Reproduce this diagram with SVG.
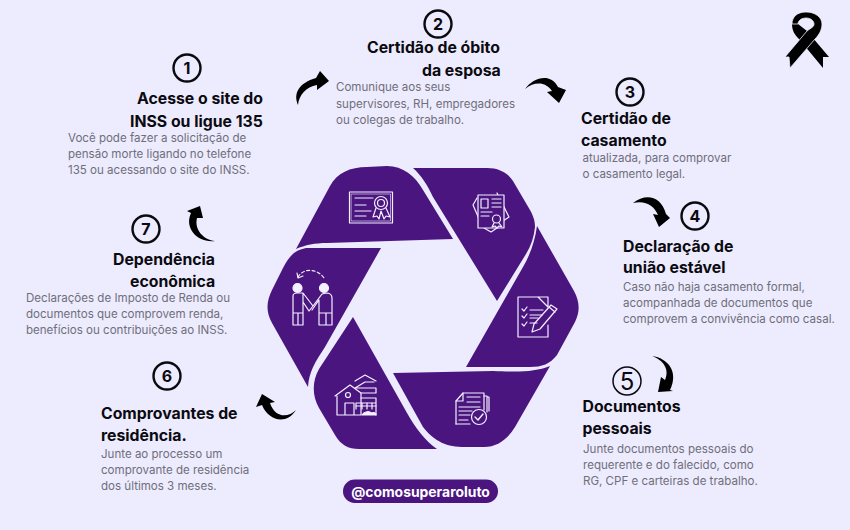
<svg xmlns="http://www.w3.org/2000/svg" width="850" height="530" viewBox="0 0 850 530">
<style>
.h{font:700 15.8px Inter,"Liberation Sans",sans-serif;fill:#0a0a0f}
.b{font:400 11.55px Inter,"Liberation Sans",sans-serif;fill:#6f6f7a}
.n{font:700 16px Inter,"Liberation Sans",sans-serif;fill:#0a0a0f;text-anchor:middle}
.c{fill:none;stroke:#0a0a0f;stroke-width:2.4}
.s{fill:#4b1580}
.i{fill:none;stroke:#f4f0ff;stroke-width:1.2;stroke-linejoin:round;stroke-linecap:round}
.a{fill:#000}
</style>
<rect width="850" height="530" fill="#edebfe"/>
<g id="ribbon"><path class="a" d="M792,24C792,31 795,35 799,39L823,68L823,57L829,57L807,31L798,24Z"/><path class="a" stroke="#edebfe" stroke-width=".8" d="M806,12C815,12 822,17 822,24C822,30 819,35 815,39L790,68L789,57L785,57L807,31C811,28 814,27 814,24C814,21 811,18 806,18C801,18 798,21 798,24L792,24C792,17 797,12 806,12Z"/></g>
<g id="connectors">
<path class="a" d="M298,105C293,93 299,83 316,78L320,71L329,81L317,90L317,85C306,87 299,95 298,105Z"/>
<path class="a" d="M525,89C533,78 550,72 558,87L566,90L559,103L547,92L552,91C546,82 535,81 525,89Z"/>
<path class="a" d="M633,203C646,193 661,196 666,214L670,218L659,227L653,214L658,215C654,205 645,200 633,203Z"/>
<path class="a" d="M652,356C668,358 679,372 670,390L673,391L658,392L661,377L665,380C670,369 663,360 652,356Z"/>
<path class="a" d="M200,206L187,211L191,213C184,228 197,243 215,241C204,240 194,230 197,218L203,218Z"/>
<path class="a" d="M262,394L256,407L262,405C268,420 286,426 296,410C288,418 275,418 270,403L275,402Z"/>
</g>
<g id="seg-1"><path class="s" d="M296,249L330,186C337,173 350,167 367,167L387,166C403,166 415,176 423,190L453,239L327,243C315,243 305,245 296,249Z"/>
<g class="i"><rect x="349.500" y="192" width="43" height="31"/><rect x="351.500" y="194" width="39" height="27" stroke-width=".6"/><path d="M355,198H373M355,205H366M355,211H371M355,216H366"/><circle cx="381" cy="203" r="6.500"/><circle cx="381" cy="203" r="3.500"/><path d="M376,208L373,217L377,216L379,219L381,211L384,219L386,216L390,217L386,208"/></g></g>
<g id="seg-2"><path class="s" d="M413,168H487C499,168 508,173 513,181L530,210C534,217 535,222 535,227C534,237 531,246 526,254L497,301L433,197C428,186 421,175 413,168Z"/>
<g class="i"><path d="M477,198L473,205L480,221M497,193L509,217L503,221M484,228L491,232L497,228"/><path d="M478,195L497,195L504,195V228H478Z" fill="#4b1580"/><rect x="481" y="199" width="7" height="9"/><path d="M492,199H501M492,203H501M492,207H501M481,212H492M481,216H489"/><circle cx="496.500" cy="219" r="4"/><path d="M494,223L492,227L495,226L497,228L499,226L502,227L499,223"/></g></g>
<g id="seg-3"><path class="s" d="M537,226L574,291C580,302 580,312 575,322L557,355C550,364 542,367 530,367H466L523,267C529,257 535,242 537,226Z"/>
<g class="i"><path d="M548,307V297L537,297H518V337H548V325M538,297L548,307"/><path d="M522,309L524,311L527,307M522,316L524,318L527,314M522,324L524,326L527,322M530,310H543M530,315H542M530,318H538M530,323H537"/><path d="M532,332L534,324L551,305L557,309L540,329ZM549,307L555,312"/></g></g>
<g id="seg-4"><path class="s" d="M550,366L515,427C507,440 497,447 484,447H465C447,447 435,442 423,427L393,373L493,371C520,372 535,372 550,366Z"/>
<g class="i"><path d="M456,424V401L463,393H484V410"/><path d="M484,396H487V412M487,397H489V411"/><path d="M456,401H463V393M467,397H480M467,402H480M459,407H480M459,411H472M459,415H470M459,420H468M456,424H470"/><circle cx="479" cy="417" r="7.500"/><path d="M475,417L478,420L483,414" stroke-width="1.400"/></g></g>
<g id="seg-5"><path class="s" d="M437,449H359C348,449 341,445 335,435L319,408C312,396 312,381 319,369L353,317L407,413C415,427 425,441 437,449Z"/>
<g class="i"><path d="M335,396L350,385L361,393V415H337V396M345,415V403H354V415"/><circle cx="348" cy="395" r="2.500"/><path d="M355,388H376V393H361M355,388L365,382H374M361,398H376V415M356,409V403H376"/><path d="M362,403V409M367,403V409M372,403V409M356,406H376"/><path d="M355,381L365,375L376,381"/><path d="M362,415C364,411 370,411 371,413C374,412 376,413 376,415Z" fill="#f4f0ff"/></g></g>
<g id="seg-6"><path class="s" d="M381,248L325,347C315,362 309,372 308,387L272,323C266,312 266,302 272,290L283,268C289,256 295,250 306,248Z"/>
<g class="i"><circle cx="297.500" cy="288" r="4.500" fill="#f4f0ff"/><circle cx="324" cy="288" r="4.500" fill="#f4f0ff"/><path d="M293,325V296C293,294 295,293 297,293H303L313,306L322,294L326,293C330,293 332,295 332,298V325M303,293V325H293M319,300V325H332M298,325V313M326,325V313M293,313H303M319,313H332M303,302L309,311L313,306M319,300L312,310"/><path d="M298,277C303,268 317,268 324,278" stroke-dasharray="3 2.500"/><path d="M298,278L297,273M298,278L303,276"/></g></g>
<g id="step-1"><circle class="c" cx="187" cy="68" r="13.500"/><text class="n" x="187" y="74">1</text><text class="h" x="137" y="104">Acesse o site do</text><text class="h" x="130" y="127">INSS ou ligue 135</text><text class="b"><tspan x="68" y="142">Você pode fazer a solicitação de</tspan><tspan x="68" y="158">pensão morte ligando no telefone</tspan><tspan x="68" y="174">135 ou acessando o site do INSS.</tspan></text></g>
<g id="step-2"><circle class="c" cx="438" cy="24" r="13.500"/><text class="n" x="438" y="30">2</text><text class="h" x="367" y="53">Certidão de óbito</text><text class="h" x="422" y="76">da esposa</text><text class="b"><tspan x="336" y="91">Comunique aos seus</tspan><tspan x="336" y="108">supervisores, RH, empregadores</tspan><tspan x="336" y="124">ou colegas de trabalho.</tspan></text></g>
<g id="step-3"><circle class="c" cx="630" cy="92" r="13.500"/><text class="n" x="630" y="98">3</text><text class="h" x="581" y="124">Certidão de</text><text class="h" x="581" y="146">casamento</text><text class="b"><tspan x="582.500" y="162">atualizada, para comprovar</tspan><tspan x="582.500" y="178">o casamento legal.</tspan></text></g>
<g id="step-4"><circle class="c" cx="695" cy="216" r="13.500"/><text class="n" x="695" y="222">4</text><text class="h" x="623" y="252">Declaração de</text><text class="h" x="623" y="273">união estável</text><text class="b"><tspan x="623" y="291">Caso não haja casamento formal,</tspan><tspan x="623" y="307">acompanhada de documentos que</tspan><tspan x="623" y="323">comprovem a convivência como casal.</tspan></text></g>
<g id="step-5"><circle cx="627" cy="381" r="14" fill="none" stroke="#0a0a0f" stroke-width="1.500"/><text class="n" x="627" y="390" style="font-size:24px;font-weight:400">5</text><text class="h" x="582.500" y="412">Documentos</text><text class="h" x="582.500" y="434">pessoais</text><text class="b"><tspan x="583" y="453">Junte documentos pessoais do</tspan><tspan x="583" y="469">requerente e do falecido, como</tspan><tspan x="583" y="485">RG, CPF e carteiras de trabalho.</tspan></text></g>
<g id="step-6"><circle class="c" cx="167" cy="376" r="13.500"/><text class="n" x="167" y="382">6</text><text class="h" x="101" y="419">Comprovantes de</text><text class="h" x="101" y="441">residência.</text><text class="b"><tspan x="101" y="458">Junte ao processo um</tspan><tspan x="101" y="474">comprovante de residência</tspan><tspan x="101" y="490">dos últimos 3 meses.</tspan></text></g>
<g id="step-7"><circle class="c" cx="146" cy="229" r="13.500"/><text class="n" x="146" y="235">7</text><text class="h" x="113" y="265">Dependência</text><text class="h" x="130" y="287">econômica</text><text class="b"><tspan x="26" y="302">Declarações de Imposto de Renda ou</tspan><tspan x="26" y="318">documentos que comprovem renda,</tspan><tspan x="26" y="334">benefícios ou contribuições ao INSS.</tspan></text></g>
<g id="handle"><rect x="343" y="479.500" width="155" height="23.500" rx="11.700" fill="#4b1580"/><text x="420.500" y="497" text-anchor="middle" style="font:700 13.900px Inter,'Liberation Sans',sans-serif;fill:#fff">@comosuperaroluto</text></g>
</svg>
